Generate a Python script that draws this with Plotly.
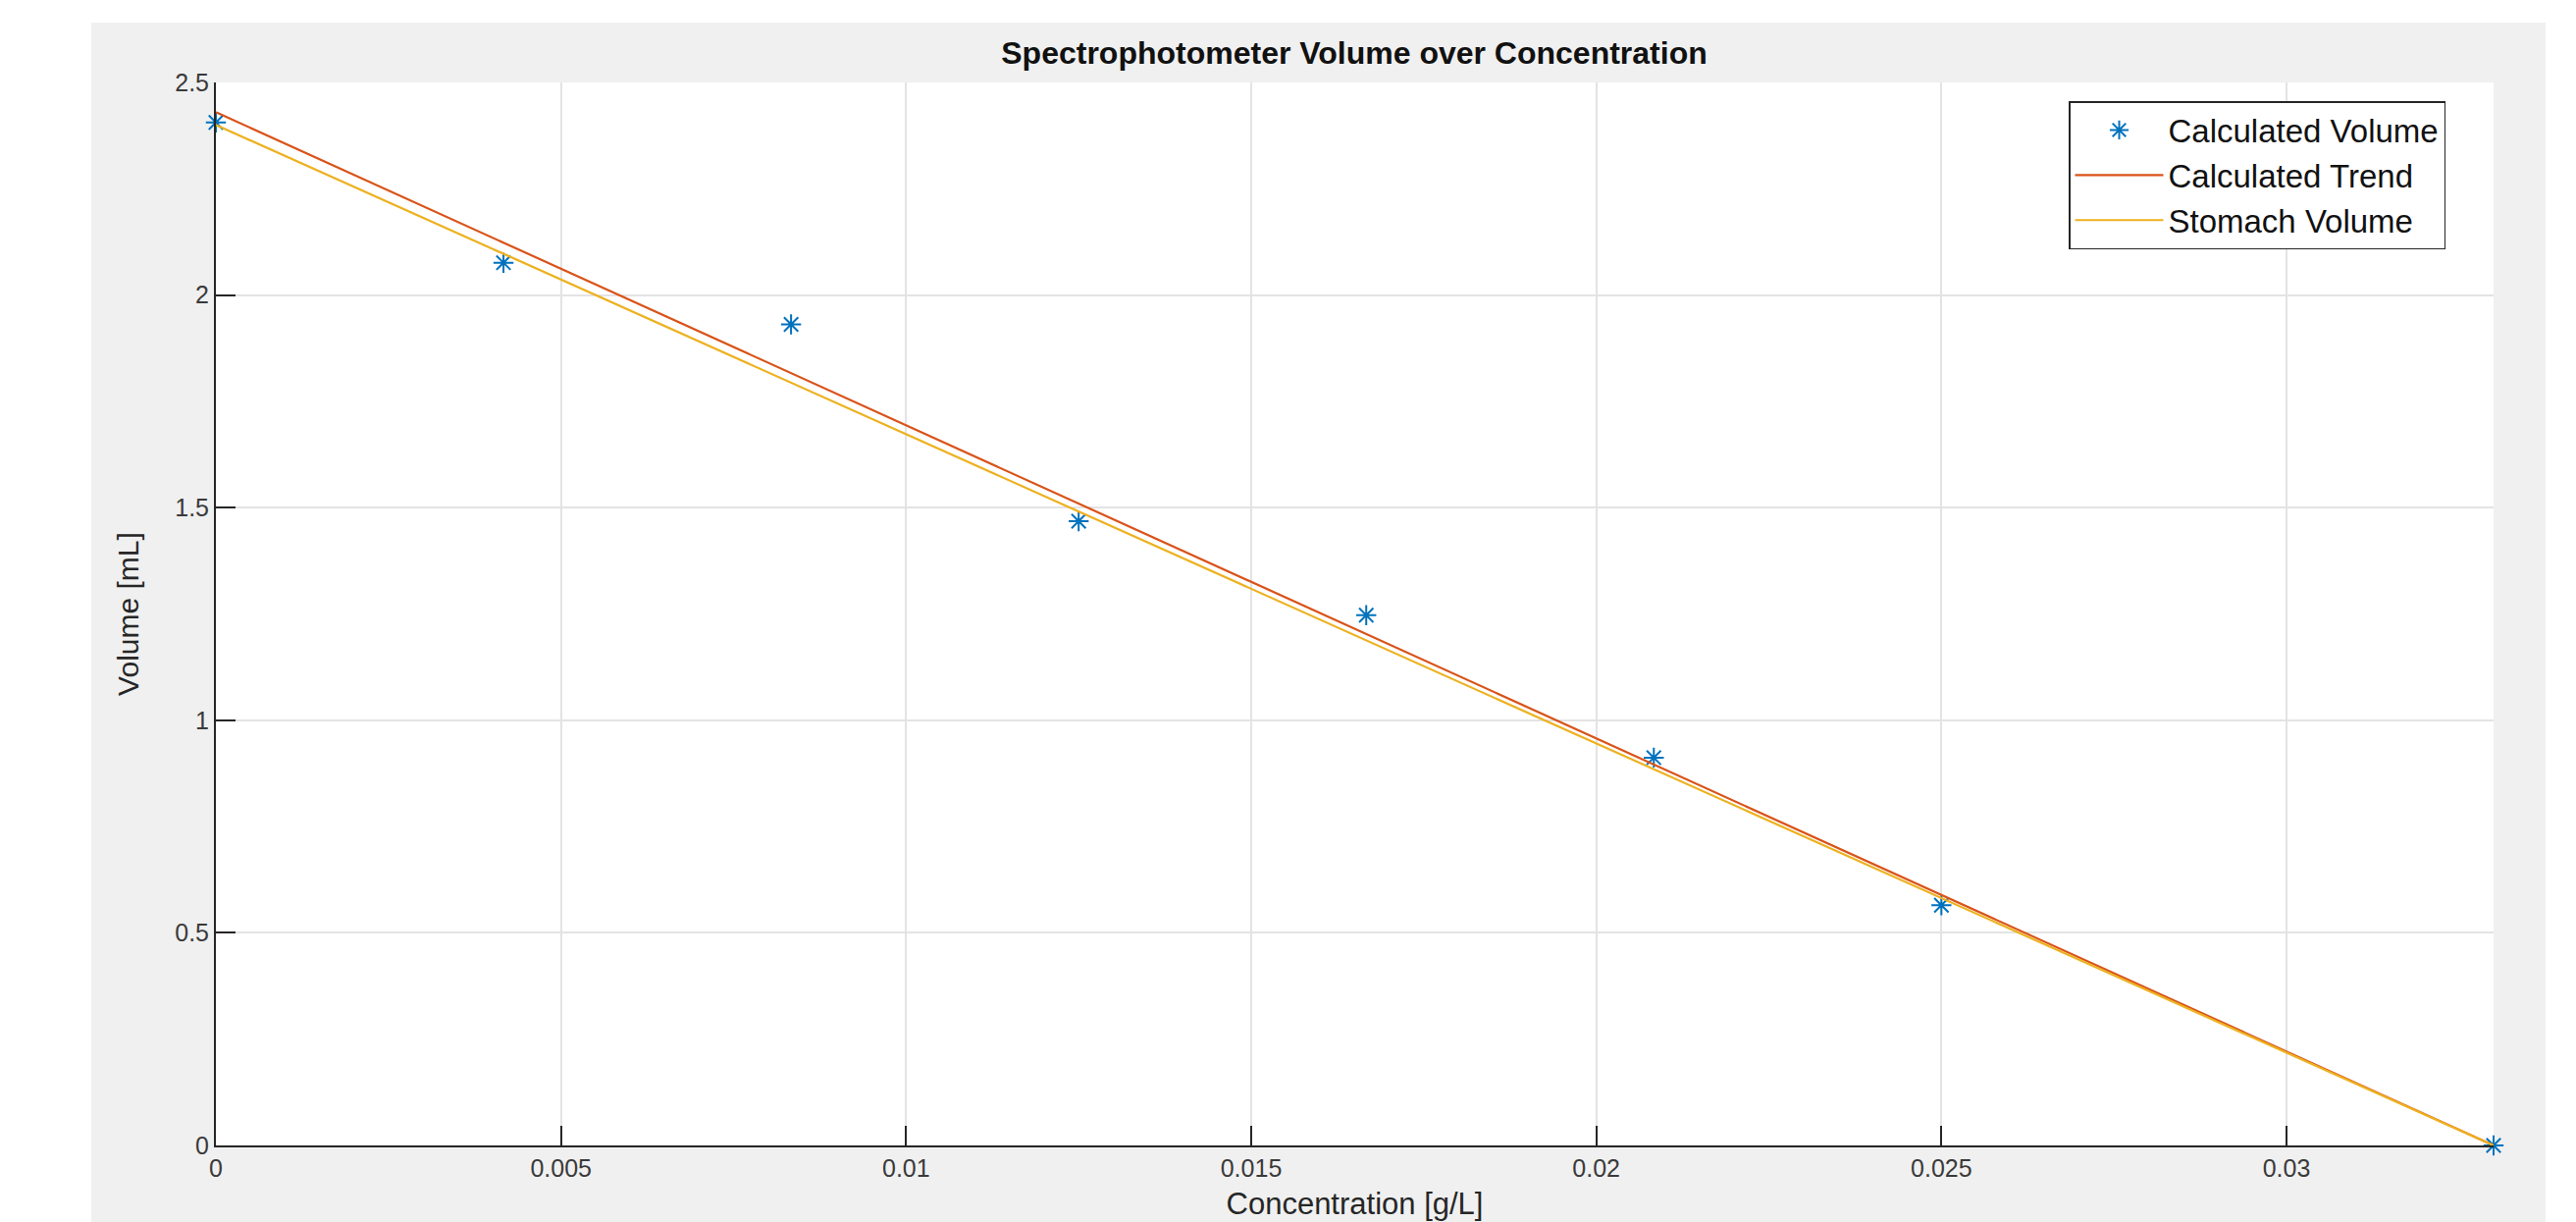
import plotly.graph_objects as go

# ---- data ----
concentration = [0.0, 0.0041667, 0.0083333, 0.0125, 0.0166667, 0.0208333, 0.025, 0.033]
calc_volume = [2.406, 2.076, 1.931, 1.468, 1.247, 0.912, 0.565, 0.0]

trend_x = [0.0, 0.033]
trend_y = [2.43, 0.0]

stomach_x = [0.0, 0.033]
stomach_y = [2.40, 0.0]

x_ticks = [0, 0.005, 0.01, 0.015, 0.02, 0.025, 0.03]
x_ticklabels = ["0", "0.005", "0.01", "0.015", "0.02", "0.025", "0.03"]
y_ticks = [0, 0.5, 1, 1.5, 2, 2.5]
y_ticklabels = ["0", "0.5", "1", "1.5", "2", "2.5"]

W, H = 2625, 1245
L, R, T, B = 212, 92, 76, 86
pw = W - L - R
ph = H - T - B

FONT = "Liberation Sans, Arial, sans-serif"
AX = "#262626"

fig = go.Figure()
fig.add_trace(go.Scatter(
    x=concentration, y=calc_volume, mode="markers", name="Calculated Volume",
    marker=dict(symbol="asterisk-open", size=17, color="#0072BD",
                line=dict(color="#0072BD", width=2)),
    cliponaxis=False))
fig.add_trace(go.Scatter(
    x=trend_x, y=trend_y, mode="lines", name="Calculated Trend",
    line=dict(color="#D95319", width=2.2), cliponaxis=False))
fig.add_trace(go.Scatter(
    x=stomach_x, y=stomach_y, mode="lines", name="Stomach Volume",
    line=dict(color="#EDB120", width=2.2), cliponaxis=False))


def px_x(p):
    return (p - L) / pw


def px_y(p):
    return 1 - (p - T) / ph


shapes = [
    # grey figure background
    dict(type="rect", xref="paper", yref="paper", layer="below",
         x0=px_x(85), x1=px_x(2586), y0=px_y(H + 5), y1=px_y(15),
         fillcolor="#f0f0f0", line=dict(width=0)),
    # white axes area
    dict(type="rect", xref="paper", yref="paper", layer="below",
         x0=0, x1=1, y0=0, y1=1, fillcolor="white", line=dict(width=0)),
]

fig.update_layout(
    width=W, height=H,
    margin=dict(l=L, r=R, t=T, b=B, pad=0),
    paper_bgcolor="white", plot_bgcolor="white",
    font=dict(family=FONT, color=AX),
    shapes=shapes,
    title=dict(text="<b>Spectrophotometer Volume over Concentration</b>",
               x=px_x(1372), xref="paper", xanchor="center",
               y=1 - 46 / H, yref="container", yanchor="middle",
               font=dict(size=32, family=FONT, color="#111111")),
    showlegend=True,
    legend=dict(x=px_x(2100), y=px_y(95), xanchor="left", yanchor="top",
                bgcolor="white", bordercolor=AX, borderwidth=1.5,
                font=dict(size=33, family=FONT, color="#111111"),
                itemwidth=90, tracegroupgap=0),
    xaxis=dict(range=[0, 0.033], tickvals=x_ticks, ticktext=x_ticklabels,
               showgrid=True, gridcolor="#e3e3e3", gridwidth=1.5,
               zeroline=False, showline=True, linecolor=AX, linewidth=2,
               ticks="inside", ticklen=20, tickwidth=2, tickcolor=AX,
               tickfont=dict(size=25, color="#3a3a3a"),
               title=dict(text="Concentration [g/L]", standoff=12,
                          font=dict(size=31, color="#262626"))),
    yaxis=dict(range=[0, 2.5], tickvals=y_ticks, ticktext=y_ticklabels,
               showgrid=True, gridcolor="#e3e3e3", gridwidth=1.5,
               zeroline=False, showline=True, linecolor=AX, linewidth=2,
               ticks="inside", ticklen=20, tickwidth=2, tickcolor=AX,
               tickfont=dict(size=25, color="#3a3a3a"),
               title=dict(text="Volume [mL]", standoff=28,
                          font=dict(size=30, color="#262626"))),
)

fig.write_html("out.html")
